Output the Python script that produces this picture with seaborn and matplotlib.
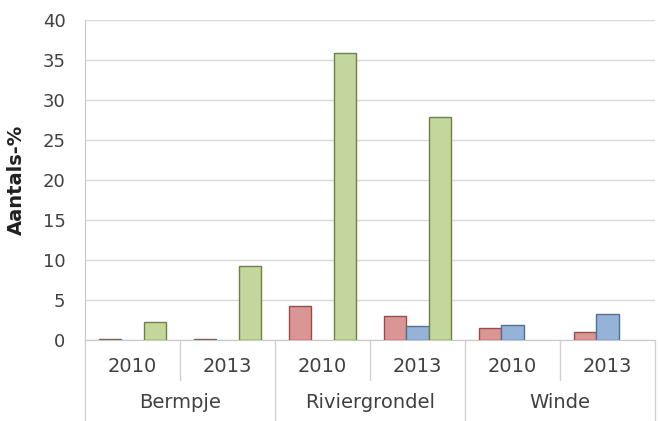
import pandas as pd
import seaborn as sns
import matplotlib.pyplot as plt
from matplotlib.transforms import blended_transform_factory

groups = ["Bermpje", "Riviergrondel", "Winde"]
years = ["2010", "2013"]
series = ["Serie 1", "Serie 2", "Serie 3"]
red = [0.1, 0.1, 4.3, 3.0, 1.5, 1.0]
blue = [0.0, 0.0, 0.0, 1.8, 1.9, 3.3]
green = [2.2, 9.3, 35.9, 27.9, 0.0, 0.0]

fills = ["#d99694", "#95b3d7", "#c3d69b"]
edges = ["#9c4a48", "#4f6f9f", "#6f7f45"]

slots = [f"{g} {y}" for g in groups for y in years]
df = pd.DataFrame({
    "slot": slots * 3,
    "serie": [s for s in series for _ in slots],
    "waarde": red + blue + green,
})

sns.set_style("white")
plt.rcParams['font.family'] = ['DejaVu Sans']

fig = plt.figure(figsize=(6.58, 4.21), dpi=100)
ax = fig.add_axes([85 / 658, 1 - 340 / 421, 570 / 658, 320 / 421])
sns.barplot(data=df, x="slot", y="waarde", hue="serie", palette=fills,
            width=0.7, saturation=1, linewidth=1, legend=False, ax=ax)

# dark outline per series, hide empty bars
for cont, ec in zip(ax.containers, edges):
    for p in cont:
        p.set_edgecolor(ec)
        if p.get_height() == 0:
            p.set_visible(False)

ax.set_xlim(-0.5, len(slots) - 0.5)
ax.set_ylim(0, 40)
ax.set_yticks(range(0, 41, 5))
ax.yaxis.grid(True, color="#d9d9d9", linewidth=1)
ax.set_axisbelow(True)
ax.tick_params(axis="y", length=5, color="#d9d9d9", labelsize=13,
               labelcolor="#404040", pad=9)
ax.tick_params(axis="x", length=0, labelbottom=False)
for side in ["top", "right"]:
    ax.spines[side].set_visible(False)
for side in ["left", "bottom"]:
    ax.spines[side].set_color("#c8c8c8")
ax.set_xlabel("")
ax.set_ylabel("Aantals-%", fontsize=14, fontweight="bold", color="#202020")
ax.yaxis.set_label_coords(-0.1035, 0.5)

# two-level category axis
trans = blended_transform_factory(ax.transData, ax.transAxes)
for i in range(len(slots) + 1):
    x = i - 0.5
    ybot = -82 / 320 if i % 2 == 0 else -40 / 320
    ax.plot([x, x], [0, ybot], transform=trans, color="#d0d0d0",
            lw=1, clip_on=False)
for i, s in enumerate(slots):
    ax.text(i, -26 / 320, years[i % 2], transform=trans, ha="center",
            va="center", fontsize=14, color="#404040")
for j, g in enumerate(groups):
    ax.text(2 * j + 0.5, -62 / 320, g, transform=trans, ha="center",
            va="center", fontsize=14, color="#404040")

fig.savefig("out.png", dpi=100)
